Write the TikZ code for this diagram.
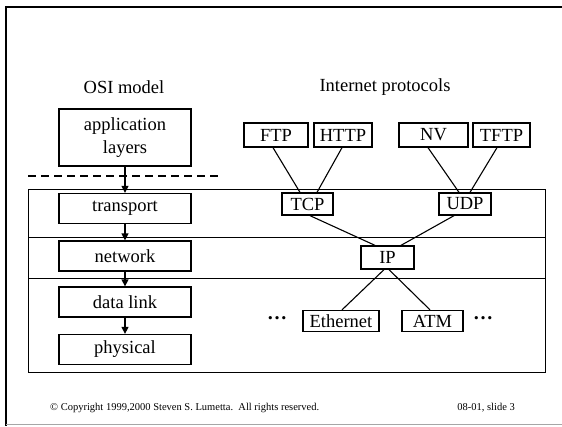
\documentclass[tikz,border=0pt]{standalone}
\usepackage{fontspec}
\setmainfont{Liberation Serif}
\usetikzlibrary{arrows.meta,calc}
\begin{document}
\begin{tikzpicture}[x=1pt,y=-1pt,
  every node/.style={font=\fontsize{18.5}{23}\selectfont, inner sep=0pt},
  osibox/.style={draw, line width=1.3pt, minimum width=132pt, minimum height=30pt},
  protobox/.style={draw, line width=1.3pt, minimum height=23pt},
  link/.style={line width=1.1pt},
  flow/.style={line width=1.3pt, -{Triangle[length=7pt,width=7pt]}},
  band/.style={line width=0.9pt},
  moredots/.style={font=\fontsize{20}{23}\bfseries\selectfont},
  foot/.style={font=\fontsize{10.5}{12}\selectfont}]
\useasboundingbox (0,0) rectangle (562,426);
% slide frame
\draw[line width=2pt] (562,7) -- (6,7) -- (6,426);
\draw[line width=1.5pt, gray!70] (6,424.5) -- (562,424.5);
% titles
\node (osititle) at (124,87) {OSI model};
\node (inettitle) at (385,87) {Internet protocols};
% bands
\draw[band] (28,189) rectangle (545,372);
\coordinate (b1l) at (28,237); \coordinate (b1r) at (545,237);
\coordinate (b2l) at (28,278); \coordinate (b2r) at (545,278);
\draw[band] (b1l) -- (b1r);
\draw[band] (b2l) -- (b2r);
% dashed line
\coordinate (dl) at (28,176); \coordinate (dr) at (221,176);
\draw[line width=1.5pt, dash pattern=on 8pt off 5pt] (dl) -- (dr);
% OSI stack
\node[osibox, minimum height=57pt, align=center] (app) at (125,137.5) {application\\layers};
\node[osibox] (trans) at (125,208.5) {transport};
\node[osibox] (net) at (125,256) {network};
\node[osibox] (dlink) at (125,302) {data link};
\node[osibox] (phys) at (125,349.5) {physical};
\draw[flow] (app) -- (trans);
\draw[flow] (trans) -- (net);
\draw[flow] (net) -- (dlink);
\draw[flow] (dlink) -- (phys);
% Internet protocols
\node[protobox, minimum width=64pt, minimum height=24pt] (ftp) at (276,135) {FTP};
\node[protobox, minimum width=58pt, minimum height=24pt] (http) at (343,135) {HTTP};
\node[protobox, minimum width=69pt, minimum height=24pt] (nv) at (433.5,135) {NV};
\node[protobox, minimum width=57pt, minimum height=24pt] (tftp) at (501.5,135) {TFTP};
\node[protobox, minimum width=51pt, minimum height=22pt] (tcp) at (307.5,204) {TCP};
\node[protobox, minimum width=52pt, minimum height=22pt] (udp) at (465,204) {UDP};
\node[protobox, minimum width=53pt] (ip) at (387.5,257.5) {IP};
\node[protobox, minimum width=76pt, minimum height=21pt] (eth) at (341,321) {Ethernet};
\node[protobox, minimum width=61pt, minimum height=21pt] (atm) at (432.5,321) {ATM};
\node[moredots] (dotsl) at (277,318) {…};
\node[moredots] (dotsr) at (483,318) {…};
\draw[link] ($(ftp.south)+(-3,0)$) -- ($(tcp.north)+(-7.5,0)$);
\draw[link] ($(http.south)+(-1,0)$) -- ($(tcp.north)+(9.5,0)$);
\draw[link] ($(nv.south)+(-5.5,0)$) -- ($(udp.north)+(-6,0)$);
\draw[link] ($(tftp.south)+(-4.5,0)$) -- ($(udp.north)+(5,0)$);
\draw[link] ($(tcp.south)+(2.5,0)$) -- ($(ip.north)+(-12.5,0)$);
\draw[link] ($(udp.south)+(-11,0)$) -- ($(ip.north)+(13.5,0)$);
\draw[link] ($(ip.south)+(-3.5,0)$) -- ($(eth.north)+(1,0)$);
\draw[link] ($(ip.south)+(1.5,0)$) -- ($(atm.north)+(-2.5,0)$);
% footer
\node[foot, anchor=west] (copy) at (50,408) {© Copyright 1999,2000 Steven S. Lumetta.\ \ All rights reserved.};
\node[foot, anchor=east] (slide) at (515,408) {08-01, slide 3};
\end{tikzpicture}
\end{document}
